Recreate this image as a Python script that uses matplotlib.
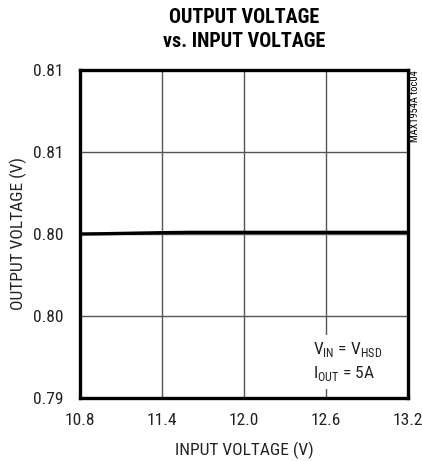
import matplotlib.pyplot as plt
from matplotlib.ticker import FixedLocator, FixedFormatter

# data
vin = [10.8, 11.0, 11.2, 11.4, 11.6, 11.8, 12.0, 12.4, 12.8, 13.2]
vout = [0.80000, 0.80002, 0.80005, 0.80008, 0.80010, 0.80010, 0.80010, 0.80010, 0.80010, 0.80010]
xticks = [10.8, 11.4, 12.0, 12.6, 13.2]
xlabels = ["10.8", "11.4", "12.0", "12.6", "13.2"]
yticks = [0.79, 0.795, 0.80, 0.805, 0.81]
ylabels = ["0.79", "0.80", "0.80", "0.81", "0.81"]

plt.rcParams.update({
    "font.family": ["Roboto Condensed", "DejaVu Sans"],
    "font.stretch": "condensed",
    "font.size": 12,
})

fig = plt.figure(figsize=(4.22, 4.61), dpi=100)
ax = fig.add_axes([80 / 422, 63 / 461, 328 / 422, 328 / 461])

ax.plot(vin, vout, color="black", linewidth=2.4)

ax.set_xlim(10.8, 13.2)
ax.set_ylim(0.79, 0.81)
ax.xaxis.set_major_locator(FixedLocator(xticks))
ax.xaxis.set_major_formatter(FixedFormatter(xlabels))
ax.yaxis.set_major_locator(FixedLocator(yticks))
ax.yaxis.set_major_formatter(FixedFormatter(ylabels))
ax.tick_params(axis="x", length=0, pad=11, labelsize=12.5, colors="#222222")
ax.tick_params(axis="y", length=0, pad=12, labelsize=12.5, colors="#222222")
ax.grid(True, color="#555555", linewidth=1.0)
for s in ax.spines.values():
    s.set_linewidth(2.4)

ax.set_xlabel("INPUT VOLTAGE (V)", fontsize=12.5, labelpad=10, color="#222222")
ax.set_ylabel("OUTPUT VOLTAGE (V)", fontsize=12.5, labelpad=4, color="#222222")

fig.text(0.578, 0.982, "OUTPUT VOLTAGE\nvs. INPUT VOLTAGE", ha="center", va="top",
         fontsize=14.5, fontweight="bold", linespacing=1.3)

ax.text(0.71, 0.045, r"V$_{\mathregular{IN}}$ = V$_{\mathregular{HSD}}$" "\n"
        r"I$_{\mathregular{OUT}}$ = 5A", transform=ax.transAxes,
        ha="left", va="bottom", fontsize=12.5, linespacing=1.35, color="#222222",
        bbox=dict(facecolor="white", edgecolor="none", pad=4))

fig.text(415 / 422, 1 - 70 / 461, "MAX1954A toc04", rotation=90, ha="center", va="top",
         fontsize=7.5)

fig.savefig("out.png", dpi=100, facecolor="white")
